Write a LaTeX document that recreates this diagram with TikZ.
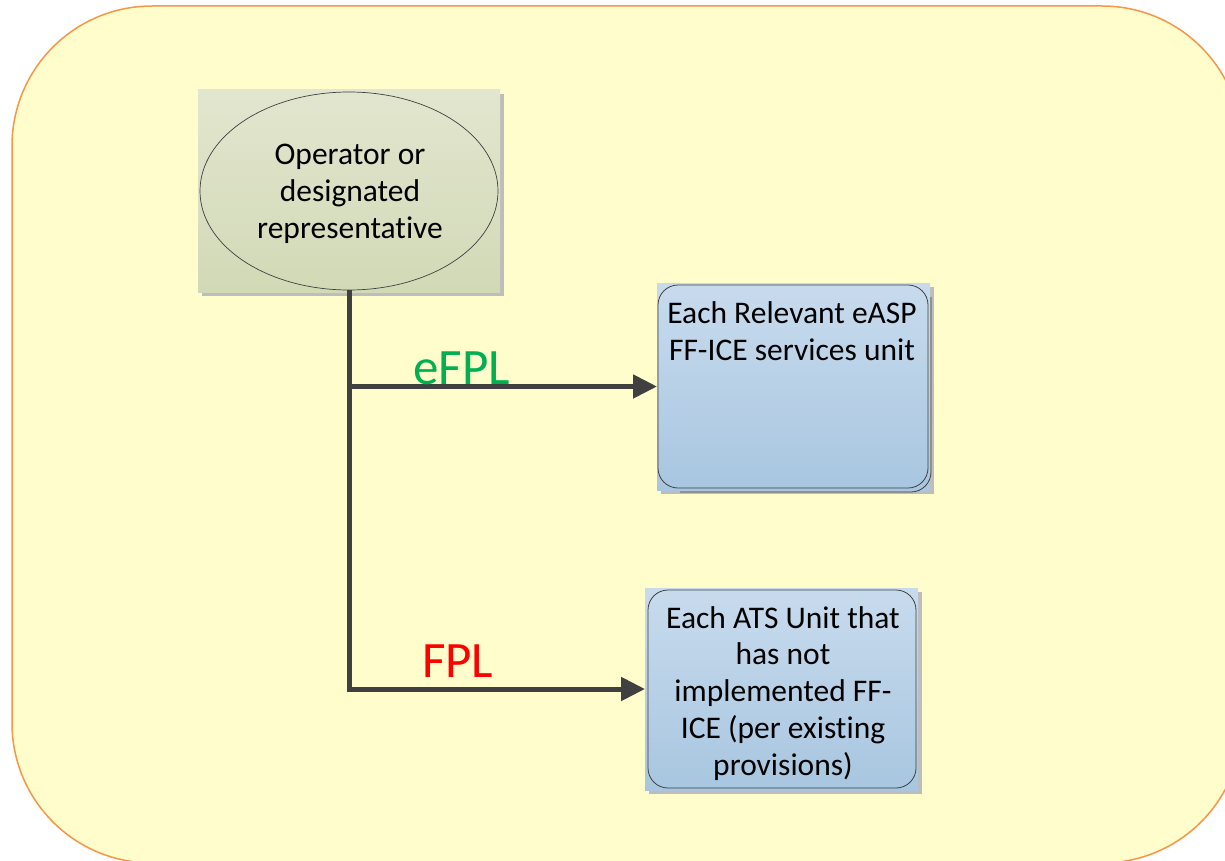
\documentclass[tikz,border=0pt]{standalone}
\usepackage{fontspec}
\setmainfont{Carlito}[Ligatures=NoCommon]
\usetikzlibrary{shapes.geometric,arrows.meta,shadows}
\definecolor{bgfill}{HTML}{FFFDCC}
\definecolor{bgline}{HTML}{F79646}
\definecolor{gtop}{HTML}{E2E6CF}
\definecolor{gbot}{HTML}{D2D9B6}
\definecolor{btop}{HTML}{C8DBED}
\definecolor{bbot}{HTML}{A8C6E0}
\definecolor{conn}{HTML}{404040}
\definecolor{shd}{HTML}{BDBDBD}
\definecolor{efgreen}{HTML}{00B050}
\definecolor{fred}{HTML}{FF0000}
\begin{document}
\begin{tikzpicture}[x=1pt,y=-1pt,
  panel/.style={draw=none, inner sep=0pt, outer sep=0pt,
    drop shadow={shadow xshift=4pt, shadow yshift=-4pt, fill=shd, opacity=1}},
  greenpanel/.style={panel, top color=gtop, bottom color=gbot},
  bluepanel/.style={panel, top color=btop, bottom color=bbot},
  roundborder/.style={draw=conn, line width=0.8pt, rounded corners=20pt},
  boxtext/.style={font=\fontsize{31.5}{36.7}\selectfont, align=center, inner sep=0pt, anchor=base},
  lab/.style={font=\fontsize{51}{60}\selectfont, inner sep=0pt, anchor=base west},
  link/.style={draw=conn, line width=5pt, -{Triangle[length=24pt,width=23pt]}}
]
\useasboundingbox (0,0) rectangle (1225,861);
% background panel
\draw[bgline, line width=1.5pt, fill=bgfill, rounded corners=140pt] (12,6) rectangle (1242,863);

% operator
\node[greenpanel, minimum width=302pt, minimum height=202pt] (opbox) at (349,191) {};
\node[ellipse, draw=conn, line width=0.7pt, minimum width=298pt, minimum height=198pt, inner sep=0pt] (op) at (349,191) {};
\node[boxtext] (optext) at (350,238) {Operator or\\designated\\representative};

% eASP box
\node[bluepanel, minimum width=273pt, minimum height=207pt] (ef) at (793.5,386.5) {};
\draw[roundborder] ([shift={(1,14)}]ef.north east) -- ([shift={(1,2)}]ef.south east) -- ([shift={(-250,2)}]ef.south east);
\draw[roundborder] ([shift={(1,2)}]ef.north west) rectangle ([shift={(-2,-2)}]ef.south east);
\node[boxtext] (eftext) at (792,360) {Each Relevant eASP\\FF-ICE services unit};

% ATS box
\node[bluepanel, minimum width=273pt, minimum height=202pt] (ats) at (781.5,689) {};
\draw[roundborder] ([shift={(3,2)}]ats.north west) rectangle ([shift={(-2,-2)}]ats.south east);
\node[boxtext] (atstext) at (783,775) {Each ATS Unit that\\has not\\implemented FF-\\ICE (per existing\\provisions)};

% connectors
\draw[link] (op.south) |- (ats.west);
\draw[link] (op.south |- ef.west) -- (ef.west);

% labels
\node[lab, text=efgreen] (lef) at (413,384) {eFPL};
\node[lab, text=fred] (lfp) at (422,677) {FPL};
\end{tikzpicture}
\end{document}
